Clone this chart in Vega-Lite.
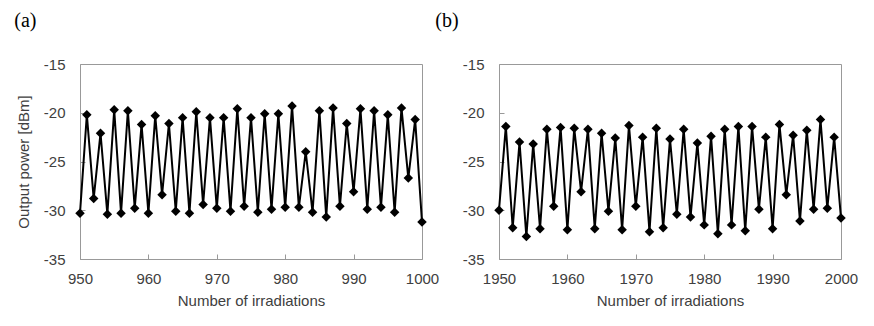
{
  "$schema": "https://vega.github.io/schema/vega-lite/v6.json",
  "background": "white",
  "padding": {"left": 13, "top": 10, "right": 5, "bottom": 5},
  "bounds": "flush",
  "spacing": 77,
  "config": {
    "view": {"stroke": "#999999", "strokeWidth": 1},
    "axis": {
      "grid": false,
      "domain": false,
      "labelFlush": false,
      "labelOverlap": false,
      "tickColor": "#999999",
      "tickSize": -5,
      "labelPadding": 20,
      "labelFont": "Liberation Sans",
      "labelFontSize": 15,
      "labelColor": "#404040",
      "titleFont": "Liberation Sans",
      "titleFontSize": 15,
      "titleFontWeight": "normal",
      "titleColor": "#404040"
    },
    "axisX": {"titlePadding": 7, "labelPadding": 17},
    "axisY": {"titlePadding": 12},
    "title": {"font": "Liberation Serif", "fontSize": 20, "fontWeight": "normal", "anchor": "start", "frame": "bounds", "color": "#000000", "offset": 26}
  },
  "datasets": {
    "a": [
      {"n": 950, "p": -30.3}, {"n": 951, "p": -20.2}, {"n": 952, "p": -28.8}, {"n": 953, "p": -22.1},
      {"n": 954, "p": -30.4}, {"n": 955, "p": -19.7}, {"n": 956, "p": -30.3}, {"n": 957, "p": -19.8},
      {"n": 958, "p": -29.8}, {"n": 959, "p": -21.2}, {"n": 960, "p": -30.3}, {"n": 961, "p": -20.3},
      {"n": 962, "p": -28.4}, {"n": 963, "p": -21.1}, {"n": 964, "p": -30.1}, {"n": 965, "p": -20.5},
      {"n": 966, "p": -30.3}, {"n": 967, "p": -19.9}, {"n": 968, "p": -29.4}, {"n": 969, "p": -20.5},
      {"n": 970, "p": -29.8}, {"n": 971, "p": -20.5}, {"n": 972, "p": -30.1}, {"n": 973, "p": -19.6},
      {"n": 974, "p": -29.6}, {"n": 975, "p": -20.5}, {"n": 976, "p": -30.2}, {"n": 977, "p": -20.1},
      {"n": 978, "p": -29.9}, {"n": 979, "p": -20.1}, {"n": 980, "p": -29.7}, {"n": 981, "p": -19.3},
      {"n": 982, "p": -29.7}, {"n": 983, "p": -24.0}, {"n": 984, "p": -30.2}, {"n": 985, "p": -19.8},
      {"n": 986, "p": -30.7}, {"n": 987, "p": -19.5}, {"n": 988, "p": -29.6}, {"n": 989, "p": -21.1},
      {"n": 990, "p": -28.1}, {"n": 991, "p": -19.6}, {"n": 992, "p": -29.9}, {"n": 993, "p": -19.8},
      {"n": 994, "p": -29.7}, {"n": 995, "p": -20.2}, {"n": 996, "p": -30.2}, {"n": 997, "p": -19.5},
      {"n": 998, "p": -26.7}, {"n": 999, "p": -20.7}, {"n": 1000, "p": -31.2}
    ],
    "b": [
      {"n": 1950, "p": -30.0}, {"n": 1951, "p": -21.4}, {"n": 1952, "p": -31.8}, {"n": 1953, "p": -23.0},
      {"n": 1954, "p": -32.7}, {"n": 1955, "p": -23.2}, {"n": 1956, "p": -31.9}, {"n": 1957, "p": -21.7},
      {"n": 1958, "p": -29.6}, {"n": 1959, "p": -21.5}, {"n": 1960, "p": -32.0}, {"n": 1961, "p": -21.6},
      {"n": 1962, "p": -28.1}, {"n": 1963, "p": -21.7}, {"n": 1964, "p": -31.9}, {"n": 1965, "p": -22.1},
      {"n": 1966, "p": -30.1}, {"n": 1967, "p": -22.6}, {"n": 1968, "p": -32.0}, {"n": 1969, "p": -21.3},
      {"n": 1970, "p": -29.6}, {"n": 1971, "p": -22.5}, {"n": 1972, "p": -32.2}, {"n": 1973, "p": -21.6},
      {"n": 1974, "p": -31.8}, {"n": 1975, "p": -22.7}, {"n": 1976, "p": -30.4}, {"n": 1977, "p": -21.7},
      {"n": 1978, "p": -30.7}, {"n": 1979, "p": -23.1}, {"n": 1980, "p": -31.5}, {"n": 1981, "p": -22.4},
      {"n": 1982, "p": -32.4}, {"n": 1983, "p": -21.7}, {"n": 1984, "p": -31.5}, {"n": 1985, "p": -21.4},
      {"n": 1986, "p": -32.1}, {"n": 1987, "p": -21.4}, {"n": 1988, "p": -29.9}, {"n": 1989, "p": -22.5},
      {"n": 1990, "p": -31.9}, {"n": 1991, "p": -21.2}, {"n": 1992, "p": -28.4}, {"n": 1993, "p": -22.3},
      {"n": 1994, "p": -31.1}, {"n": 1995, "p": -21.8}, {"n": 1996, "p": -29.9}, {"n": 1997, "p": -20.7},
      {"n": 1998, "p": -29.8}, {"n": 1999, "p": -22.5}, {"n": 2000, "p": -30.8}
    ]
  },
  "hconcat": [
    {
      "title": {"text": "(a)", "dx": -2},
      "width": 342,
      "height": 195,
      "data": {"name": "a"},
      "encoding": {
        "x": {"field": "n", "type": "quantitative", "scale": {"domain": [950, 1000], "nice": false, "zero": false},
              "axis": {"values": [950, 960, 970, 980, 990, 1000], "title": "Number of irradiations", "format": "d"}},
        "y": {"field": "p", "type": "quantitative", "scale": {"domain": [-35, -15], "nice": false, "zero": false},
              "axis": {"values": [-35, -30, -25, -20, -15], "title": "Output power [dBm]", "labelExpr": "toString(datum.value)"}}
      },
      "layer": [
        {"mark": {"type": "line", "color": "#000000", "strokeWidth": 2}},
        {"mark": {"type": "point", "shape": "diamond", "filled": true, "size": 90, "color": "#000000", "opacity": 1}}
      ]
    },
    {
      "title": {"text": "(b)", "dx": -27},
      "width": 342,
      "height": 195,
      "data": {"name": "b"},
      "encoding": {
        "x": {"field": "n", "type": "quantitative", "scale": {"domain": [1950, 2000], "nice": false, "zero": false},
              "axis": {"values": [1950, 1960, 1970, 1980, 1990, 2000], "title": "Number of irradiations", "format": "d"}},
        "y": {"field": "p", "type": "quantitative", "scale": {"domain": [-35, -15], "nice": false, "zero": false},
              "axis": {"values": [-35, -30, -25, -20, -15], "title": null, "labelExpr": "toString(datum.value)"}}
      },
      "layer": [
        {"mark": {"type": "line", "color": "#000000", "strokeWidth": 2}},
        {"mark": {"type": "point", "shape": "diamond", "filled": true, "size": 90, "color": "#000000", "opacity": 1}}
      ]
    }
  ]
}
